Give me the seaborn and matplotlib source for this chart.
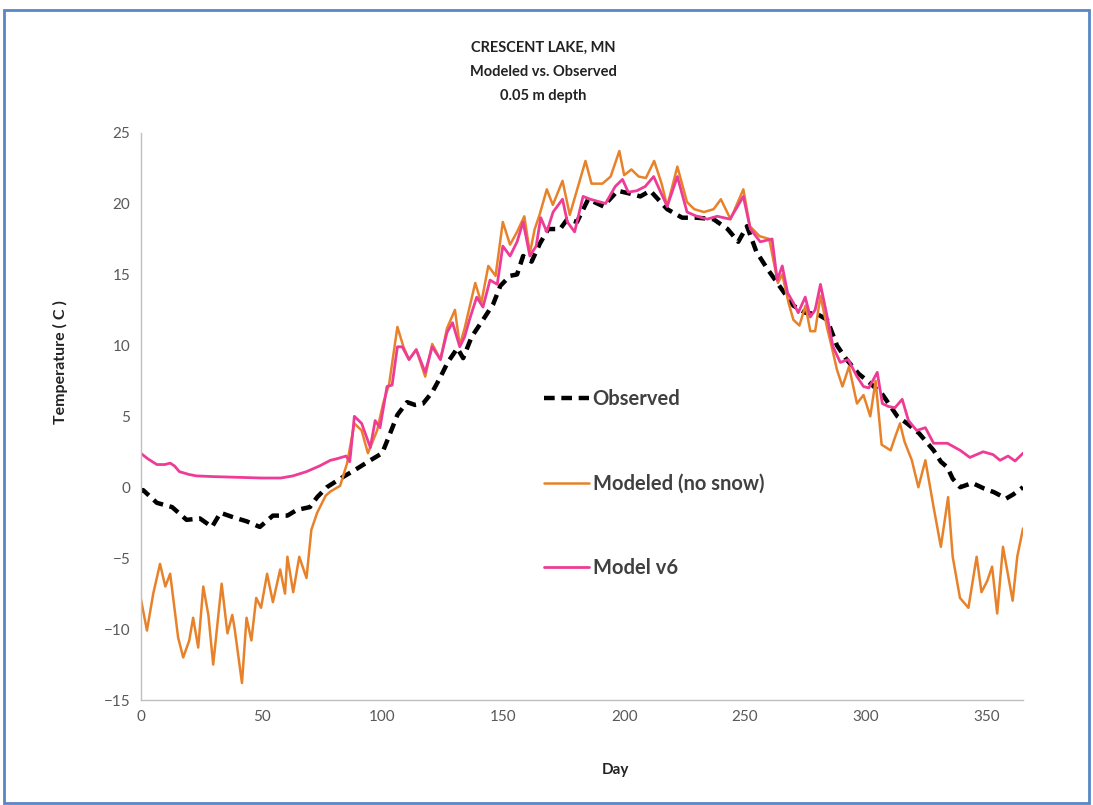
import pandas as pd
import seaborn as sns
from matplotlib import pyplot as plt
from matplotlib import patches

# observed temperature at 0.05 m
obs_day = [0, 1, 6.7, 13, 19, 24.5, 29.5, 33, 38, 43.8,
           49.3, 54.7, 60.7, 64.6, 70, 73, 77, 82.5, 89.4, 95,
           99.9, 103.2, 106.2, 110.2, 113.5, 116.8, 120.6, 123.8, 127, 131,
           133.4, 136.9, 141.6, 145.8, 148.8, 152.8, 155.7, 158.2, 161.7, 165.2,
           168.6, 173.5, 176.5, 180.5, 185.1, 191.4, 197.3, 202.3, 206.7, 210.8,
           217.8, 224, 230, 236.9, 242.8, 247.2, 250.8, 254.7, 259.2, 265,
           270, 275, 280, 284, 288, 292, 297, 302, 307, 313,
           317, 322, 328, 331, 333.7, 335.9, 339, 344, 349, 353,
           358, 361, 365]
obs_temp = [-0.3, -0.2, -1.1, -1.4, -2.3, -2.2, -2.8, -1.8, -2.1, -2.4,
            -2.8, -2.0, -2.0, -1.6, -1.4, -0.7, 0.0, 0.6, 1.3, 1.9,
            2.4, 3.8, 5.1, 6.0, 5.8, 5.9, 6.7, 7.7, 8.8, 9.8,
            9.1, 10.6, 11.8, 12.9, 14.2, 14.9, 15.0, 16.3, 15.9, 17.2,
            18.2, 18.2, 18.9, 18.7, 20.3, 19.8, 20.9, 20.7, 20.5, 20.9,
            19.6, 19.0, 19.0, 18.9, 18.2, 17.3, 18.4, 16.6, 15.4, 14.0,
            12.8, 12.3, 12.2, 11.8, 10.0, 9.0, 8.0, 7.3, 6.5, 5.0,
            4.5, 3.8, 2.6, 1.8, 1.4, 0.6, 0.0, 0.3, -0.1, -0.35,
            -0.8, -0.5, 0.0]

# modeled, no snow
ns_day = [0, 2.6, 5.2, 8, 10.2, 12.2, 15.5, 17.6, 20.1, 21.7,
          23.8, 25.9, 28, 30, 33.5, 35.9, 37.9, 38.9, 41.9, 43.8,
          45.8, 47.8, 49.8, 52.3, 54.7, 57.7, 59.7, 60.7, 63.1, 65.6,
          68.6, 70.6, 73, 76.5, 78.5, 82.5, 85.4, 88.4, 91.4, 94,
          97.8, 100.3, 102.8, 106.2, 108.7, 111, 114, 117.7, 120.6, 124,
          126.7, 130, 132, 134, 138.4, 140.9, 143.8, 146.8, 149.8, 152.8,
          155.7, 158.7, 161, 163, 165, 168, 170.5, 174.5, 177.5, 184,
          186.5, 191, 194.4, 198, 200, 203, 206, 209, 212.4, 215.5,
          217.8, 222, 226, 229, 233, 237, 240, 244, 249.3, 252,
          256, 260, 263.6, 265.4, 268, 270, 272.5, 275, 277, 279,
          281.2, 284, 286.4, 288, 290.3, 293, 296.3, 299, 301.8, 304,
          306.5, 310.2, 312, 314.1, 316, 319, 321.7, 324.6, 328, 331,
          334, 335.9, 338.9, 342.4, 345.8, 347.8, 350.2, 352.2, 354.3, 356.7,
          360.7, 362.6, 365]
ns_temp = [-7.8, -10.1, -7.5, -5.4, -7.0, -6.1, -10.6, -12.0, -10.8, -9.2,
           -11.3, -7.0, -9.0, -12.5, -6.8, -10.3, -9.0, -10.0, -13.8, -9.2,
           -10.8, -7.8, -8.5, -6.1, -8.1, -5.8, -7.5, -4.9, -7.4, -4.9,
           -6.4, -3.0, -1.8, -0.6, -0.3, 0.1, 1.7, 4.5, 4.0, 2.4,
           4.0, 5.9, 7.3, 11.3, 9.9, 9.0, 9.7, 7.8, 10.1, 9.0,
           11.2, 12.5, 10.0, 11.2, 14.4, 13.0, 15.6, 14.9, 18.7, 17.1,
           18.0, 19.1, 16.5, 18.2, 19.2, 21.0, 19.9, 21.6, 19.2, 23.0,
           21.4, 21.4, 21.9, 23.7, 22.0, 22.4, 21.9, 21.8, 23.0, 21.4,
           19.8, 22.6, 20.1, 19.6, 19.4, 19.6, 20.3, 18.9, 21.0, 18.4,
           17.7, 17.5, 14.4, 15.0, 13.0, 11.8, 11.4, 12.8, 11.0, 11.0,
           13.5, 11.2, 9.5, 8.3, 7.1, 8.5, 5.9, 6.5, 5.0, 7.5,
           3.0, 2.6, 3.5, 4.5, 3.2, 1.9, 0.0, 1.9, -1.4, -4.2,
           -0.7, -4.9, -7.8, -8.5, -4.9, -7.4, -6.6, -5.6, -8.9, -4.2,
           -8.0, -4.9, -2.9]

# model v6
v6_day = [0, 3, 6.7, 10, 12.2, 14, 16, 20, 23, 30,
          40, 50, 58, 63, 68.6, 74, 78.5, 81, 85, 86.5,
          88.4, 91.4, 95, 97, 99, 101.9, 104, 106.2, 108.2, 111,
          114, 117.7, 120.6, 124, 126.7, 129, 132, 134, 136, 139,
          141.6, 144.5, 147.5, 149.8, 152.8, 155.7, 158.2, 161, 163.6, 165.5,
          168, 170.6, 174.5, 176.5, 179.5, 183, 186, 192.3, 196.3, 199.3,
          201.7, 205.2, 208.7, 212.2, 215.1, 217.8, 222, 226, 230, 234.4,
          238.5, 243.8, 249.3, 252.2, 256.3, 261.2, 263.3, 265.4, 267.6, 270,
          272, 274.9, 277, 279, 281.2, 284, 286.4, 289.4, 292.7, 296.3,
          299, 301.2, 304.7, 306.8, 309.2, 312, 315, 317.6, 321, 324.6,
          328, 333.7, 339, 343, 348.5, 352.6, 355.5, 358.8, 361.7, 365]
v6_temp = [2.4, 2.0, 1.6, 1.6, 1.7, 1.5, 1.1, 0.9, 0.8, 0.75,
           0.7, 0.65, 0.65, 0.8, 1.1, 1.5, 1.9, 2.0, 2.2, 1.8,
           5.0, 4.5, 2.8, 4.7, 4.2, 7.1, 7.2, 9.9, 9.9, 9.0,
           9.7, 8.1, 9.9, 9.0, 10.9, 11.6, 9.9, 10.6, 11.8, 13.4,
           12.7, 14.6, 14.3, 17.0, 16.3, 17.3, 18.7, 16.3, 17.0, 19.0,
           18.0, 19.4, 20.3, 18.7, 18.0, 20.5, 20.3, 20.0, 21.2, 21.7,
           20.8, 20.9, 21.2, 21.9, 20.8, 19.8, 21.9, 19.4, 19.1, 18.9,
           19.1, 18.9, 20.5, 18.2, 17.3, 17.5, 14.6, 15.6, 13.7, 13.0,
           12.3, 13.4, 12.0, 12.5, 14.3, 12.0, 9.9, 8.8, 9.0, 7.8,
           7.1, 7.0, 8.1, 5.9, 5.7, 5.6, 6.2, 4.7, 4.0, 4.2,
           3.1, 3.1, 2.6, 2.1, 2.5, 2.3, 1.9, 2.2, 1.85, 2.4]

df_obs = pd.DataFrame({'Day': obs_day, 'Temp': obs_temp})
df_ns = pd.DataFrame({'Day': ns_day, 'Temp': ns_temp})
df_v6 = pd.DataFrame({'Day': v6_day, 'Temp': v6_temp})

sns.set_theme(style='white')
plt.rcParams['font.family'] = ['Lato', 'DejaVu Sans']

fig = plt.figure(figsize=(10.93, 8.05), dpi=100)
ax = fig.add_axes([0.1287, 0.1304, 0.8073, 0.7049])

sns.lineplot(data=df_obs, x='Day', y='Temp', color='black', lw=3.2,
             label='Observed', ax=ax, sort=False)
ax.lines[-1].set_dashes((2.4, 1.5))
sns.lineplot(data=df_ns, x='Day', y='Temp', color='#E8822A', lw=1.8,
             label='Modeled (no snow)', ax=ax, sort=False)
sns.lineplot(data=df_v6, x='Day', y='Temp', color='#EE3C96', lw=2.0,
             label='Model v6', ax=ax, sort=False)

ax.set_xlim(0, 365)
ax.set_ylim(-15, 25)
ax.set_xticks(range(0, 351, 50))
ax.set_yticks(range(-15, 26, 5))
ax.set_xlabel('')
ax.set_ylabel('')
for side in ['top', 'right']:
    ax.spines[side].set_visible(False)
for side in ['left', 'bottom']:
    ax.spines[side].set_color('#BFBFBF')
    ax.spines[side].set_linewidth(1.0)
ax.tick_params(axis='both', which='major', direction='out', length=4,
               width=1, color='#BFBFBF', labelsize=11, labelcolor='#595959')

leg = ax.legend(loc='upper left', bbox_to_anchor=(0.446, 0.565), frameon=False,
                fontsize=14.5, labelspacing=3.2, handlelength=2.2,
                handletextpad=0.2, borderpad=0)
for txt in leg.get_texts():
    txt.set_fontweight('bold')
    txt.set_color('#404040')

fig.text(0.497, 1 - 72 / 805, 'CRESCENT LAKE, MN\nModeled vs. Observed\n0.05 m depth',
         ha='center', va='center', fontsize=10.5, fontweight='bold',
         linespacing=1.9, color='#222222')
fig.text(60 / 1093, 1 - 362 / 805, 'Temperature ( C )', rotation=90,
         ha='center', va='center', fontsize=11.5, fontweight='bold', color='#222222')
fig.text(615 / 1093, 1 - 770 / 805, 'Day', ha='center', va='center',
         fontsize=11, fontweight='bold', color='#222222')

fig.add_artist(patches.Rectangle((4 / 1093, 2 / 805), 1085 / 1093, 793 / 805,
                                 transform=fig.transFigure, fill=False,
                                 edgecolor='#5A86C5', lw=2))

plt.savefig('out.png', dpi=100)
